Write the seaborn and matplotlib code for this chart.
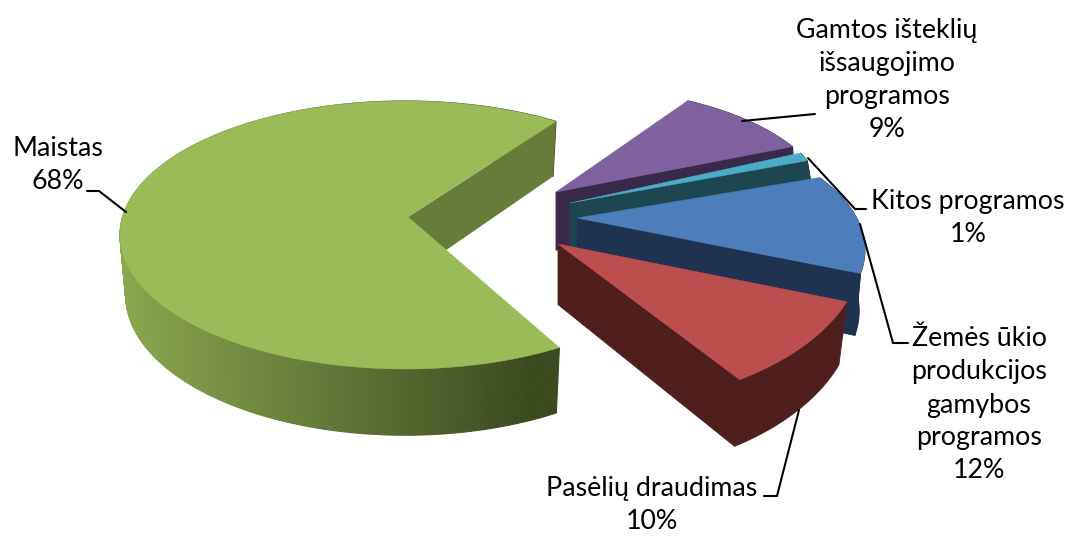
import numpy as np
import matplotlib
matplotlib.use("Agg")
import matplotlib.pyplot as plt
import seaborn as sns

categories = ["Maistas", "Gamtos išteklių\nišsaugojimo\nprogramos", "Kitos programos",
              "Žemės ūkio\nprodukcijos\ngamybos\nprogramos", "Pasėlių draudimas"]
values = [68, 9, 1, 12, 10]

top_colors = ["#9BBB59", "#7F61A0", "#4BACC6", "#4C7EBB", "#BC4F4D"]
wall_colors = ["#687C39", "#3A2A4A", "#1E4651", "#1F3350", "#4F1F1E"]

# geometry of each exploded slice (style/layout, not data)
centers = [(405, 235), (582, 214), (543, 207), (583, 250), (582, 247)]
radii = [(285, 134), (250, 125), (282, 133), (282, 133), (282, 160)]
starts = [58, 65, 24, 33, -20]
directions = [1, -1, -1, -1, -1]
apexes = [(408, 217), (556, 192), (570, 203), (577, 218), (558, 244)]
leans = [-0.02, 0.01, 0.04, -0.02, -0.028]

sns.set_theme(style="white")
plt.rcParams["font.family"] = ["Lato", "DejaVu Sans"]
palette = sns.color_palette(top_colors)
walls = sns.color_palette(wall_colors)

fig = plt.figure(figsize=(10.69, 5.36), dpi=100)
ax = fig.add_axes([0, 0, 1, 1])
ax.set_xlim(0, 1069)
ax.set_ylim(536, 0)
ax.axis("off")


def depth(y):
    return 55 + 0.045 * (y - 120)


def drop(x, y, x0, lean):
    return x + lean * (x - x0), y + depth(y)


def rim(c, r, a):
    t = np.radians(a)
    return c[0] + r[0] * np.cos(t), c[1] - r[1] * np.sin(t)


light = np.array([138, 166, 78]) / 255
dark = np.array([60, 74, 32]) / 255

for i, v in enumerate(values):
    c, r, ap, lean = centers[i], radii[i], apexes[i], leans[i]
    a0 = starts[i]
    a1 = a0 + directions[i] * v * 3.6
    ang = np.linspace(a0, a1, max(int(abs(a1 - a0) * 2), 12))
    xs, ys = rim(c, r, ang)
    bx, by = drop(xs, ys, ap[0], lean)
    abx, aby = drop(ap[0], ap[1], ap[0], lean)

    # outer rim wall
    if i == 0:
        for j in range(len(ang) - 1):
            xm = (xs[j] + xs[j + 1]) / 2
            f = np.clip((xm - 125) / (530 - 125), 0, 1)
            col = light * (1 - f) + dark * f
            ax.fill([xs[j], xs[j + 1], bx[j + 1], bx[j]],
                    [ys[j], ys[j + 1], by[j + 1], by[j]],
                    facecolor=col, edgecolor=col, lw=0.8)
        # cut wall seen through the gap
        ax.fill([ap[0], xs[0], bx[0], abx], [ap[1], ys[0], by[0], aby],
                color=walls[0], lw=0)
    else:
        ax.fill(np.r_[xs, bx[::-1]], np.r_[ys, by[::-1]],
                facecolor=walls[i], edgecolor=walls[i], lw=0.6)
        # cut wall at the clockwise end
        ax.fill([ap[0], xs[-1], bx[-1], abx], [ap[1], ys[-1], by[-1], aby],
                facecolor=walls[i], edgecolor=walls[i], lw=0.6)
    # top face
    ax.fill(np.r_[ap[0], xs], np.r_[ap[1], ys], facecolor=palette[i],
            edgecolor=palette[i], lw=0.3, zorder=2 + i * 0.01)

# leader lines
leaders = [
    [(87, 191), (99, 191), (126, 212)],
    [(815, 114), (742, 121)],
    [(808, 158), (855, 209), (866, 209)],
    [(860, 224), (893, 343), (908, 343)],
    [(799, 410), (777, 496), (764, 496)],
]
for pts in leaders:
    ax.plot(*zip(*pts), color="black", lw=1.5, zorder=5, solid_joinstyle="miter")

# labels
label_pos = [(58, 165), (887, 80), (968, 218), (979, 405), (652, 505)]
for name, v, (x, y) in zip(categories, values, label_pos):
    ax.text(x, y, f"{name}\n{v}%", ha="center", va="center", fontsize=19.3,
            color="black", linespacing=1.4, zorder=6)

sns.despine(ax=ax, left=True, bottom=True)
fig.savefig("out.png", dpi=100, facecolor="white")
